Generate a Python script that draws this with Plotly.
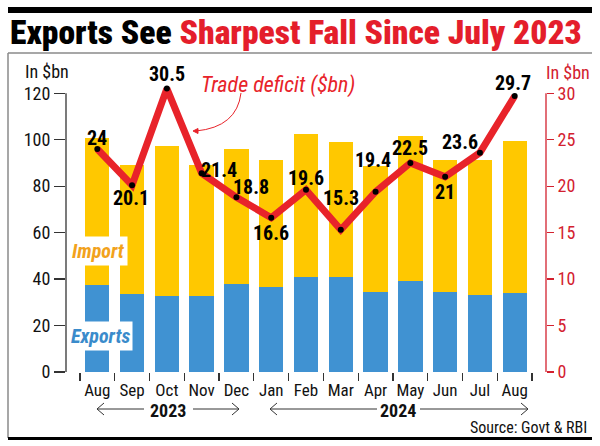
import plotly.graph_objects as go

# ---------------- data ----------------
months = ["Aug", "Sep", "Oct", "Nov", "Dec", "Jan", "Feb", "Mar", "Apr", "May", "Jun", "Jul", "Aug"]
exports = [37.4, 33.5, 32.7, 32.8, 37.7, 36.7, 40.7, 41.0, 34.5, 39.3, 34.5, 33.1, 33.8]
imports = [63.4, 55.5, 64.6, 56.2, 58.2, 54.5, 61.7, 57.8, 54.0, 62.2, 56.7, 58.1, 65.6]
deficit = [24, 20.1, 30.5, 21.4, 18.8, 16.6, 19.6, 15.3, 19.4, 22.5, 21, 23.6, 29.7]
deficit_text = ["24", "20.1", "30.5", "21.4", "18.8", "16.6", "19.6", "15.3", "19.4", "22.5", "21", "23.6", "29.7"]
left_ticks = [0, 20, 40, 60, 80, 100, 120]
right_ticks = [0, 5, 10, 15, 20, 25, 30]

# label offsets (style)
lab_dx = [0, -1, 0, 17, 15, 0, 0, 0, -3, 0, 0, -20, -2]
lab_dy = [11, -13, 15, 3, 10, -15, 12, 32, 32, 15, -15, 11, 13]

W, H = 600, 446
ML, MR, MT, MB = 66, 54, 70, 74
PW, PH = W - ML - MR, H - MT - MB


def px(x):
    return (x - ML) / PW


def py(y):
    return (H - MB - y) / PH


YEL = "#FFC800"
BLUE = "#4092D2"
RED = "#E8232A"
AXRED = "#D3212F"
COND = "Roboto Condensed, Open Sans Condensed, sans-serif"

xs = list(range(len(months)))

fig = go.Figure()
fig.add_trace(go.Bar(x=xs, y=exports, marker=dict(color=BLUE, line=dict(width=0)), width=0.7,
                     name="Exports", yaxis="y", xaxis="x", hoverinfo="skip"))
fig.add_trace(go.Bar(x=xs, y=imports, marker=dict(color=YEL, line=dict(width=0)), width=0.7,
                     name="Import", yaxis="y", xaxis="x", hoverinfo="skip"))
fig.add_trace(go.Scatter(x=xs, y=deficit, mode="lines+markers", yaxis="y2", xaxis="x",
                         line=dict(color=RED, width=7), marker=dict(color="black", size=6),
                         cliponaxis=False, name="Trade deficit", hoverinfo="skip"))
# invisible trace to activate the boundary-tick axis
fig.add_trace(go.Scatter(x=[0], y=[0], xaxis="x2", yaxis="y", mode="markers", marker=dict(opacity=0),
                         hoverinfo="skip", showlegend=False))

annotations = []
for i, v in enumerate(deficit):
    annotations.append(dict(x=xs[i], y=v, xref="x", yref="y2", text=deficit_text[i], showarrow=False,
                            xanchor="center", yanchor="middle", xshift=lab_dx[i], yshift=lab_dy[i],
                            font=dict(family=COND, size=20, color="black", weight="bold")))


def ptext(x, y, text, font, xanchor="center", **kw):
    annotations.append(dict(x=px(x), y=py(y), xref="paper", yref="paper", xanchor=xanchor,
                            yanchor="middle", showarrow=False, text=text, font=font, **kw))


# title
ptext(8, 32, "Exports See <span style='color:#E41E2B'>Sharpest Fall Since July 2023</span>",
      dict(family=COND, size=33.6, color="black", weight=900), xanchor="left")
# axis titles
ptext(47, 71, "In $bn", dict(family=COND, size=18, color="#111"))
ptext(568, 72, "In $bn", dict(family=COND, size=18, color=AXRED))
# series labels
ptext(98, 251, "<i>Import</i>", dict(family=COND, size=20, color="#F2A21C", weight="bold"),
      bgcolor="white", borderpad=2)
ptext(100, 336, "<i>Exports</i>", dict(family=COND, size=20, color="#3A8BCB", weight="bold"),
      bgcolor="white", borderpad=2)
ptext(278, 85, "<i>Trade deficit ($bn)</i>", dict(family=COND, size=22, color=RED))
# years
ptext(168, 410, "2023", dict(family=COND, size=18, color="#111", weight="bold"))
ptext(398, 410, "2024", dict(family=COND, size=18, color="#111", weight="bold"))
# source
ptext(589, 427, "Source: Govt &amp; RBI", dict(family=COND, size=16, color="#111"), xanchor="right")

shapes = []


def pline(x0, y0, x1, y1, color, width):
    shapes.append(dict(type="line", xref="paper", yref="paper", x0=px(x0), y0=py(y0), x1=px(x1), y1=py(y1),
                       line=dict(color=color, width=width), layer="above"))


def ppath(points, color, width, fill=None):
    d = "M " + " L ".join(f"{px(a):.5f},{py(b):.5f}" for a, b in points)
    if fill:
        d += " Z"
    shapes.append(dict(type="path", xref="paper", yref="paper", path=d,
                       line=dict(color=color, width=width), fillcolor=fill if fill else "rgba(0,0,0,0)",
                       layer="above"))


# frame
shapes.append(dict(type="rect", xref="paper", yref="paper", x0=px(8), x1=px(592), y0=py(7), y1=py(13),
                   fillcolor="black", line=dict(width=0)))
pline(8, 53, 592, 53, "#8a8a8a", 1.5)
pline(8, 53, 8, 438, "#8a8a8a", 1.5)
pline(8, 438.5, 592, 438.5, "black", 3)

# left & right axis lines
shapes.append(dict(type="line", xref="paper", yref="y", x0=0, x1=0, y0=0, y1=120,
                   line=dict(color="#333", width=1.3)))
shapes.append(dict(type="line", xref="paper", yref="y2", x0=1, x1=1, y0=0, y1=30,
                   line=dict(color=AXRED, width=1.3)))
# x axis line
shapes.append(dict(type="line", xref="x", yref="y", x0=-0.5, x1=len(months) - 0.5, ysizemode="pixel",
                   yanchor=0, y0=-3, y1=-3, line=dict(color="#333", width=1.3)))

# year arrows
for (a, b) in [(97, 144), (193, 239), (270, 377), (420, 528)]:
    pline(a, 409, b, 409, "#333", 1)
for tip, d in [(97, 1), (239, -1), (270, 1), (528, -1)]:
    ppath([(tip + 7 * d, 403), (tip, 409), (tip + 7 * d, 415)], "#333", 1)

# trade deficit pointer
shapes.append(dict(type="path", xref="paper", yref="paper",
                   path=f"M {px(241):.5f},{py(93):.5f} Q {px(237):.5f},{py(127):.5f} {px(196):.5f},{py(131):.5f}",
                   line=dict(color=RED, width=1), layer="above"))
ppath([(193, 131), (198, 128.5), (198, 133.5)], RED, 1, fill=RED)

fig.update_layout(
    width=W, height=H, margin=dict(l=ML, r=MR, t=MT, b=MB, autoexpand=False),
    paper_bgcolor="white", plot_bgcolor="white", showlegend=False, barmode="stack", bargap=0.3,
    hovermode=False,
    xaxis=dict(range=[-0.9, len(months) - 0.1], tickvals=xs, ticktext=months, ticks="outside",
               ticklen=3, tickcolor="rgba(0,0,0,0)", showgrid=False, zeroline=False, showline=False,
               automargin=False, tickfont=dict(family=COND, size=17, color="#111")),
    xaxis2=dict(range=[-0.9, len(months) - 0.1], overlaying="x", anchor="y", side="bottom",
                tickvals=[i - 0.5 for i in range(len(months) + 1)], ticks="outside", ticklen=8,
                tickcolor="#333", tickwidth=1.2, showticklabels=False, showgrid=False, zeroline=False,
                showline=False, automargin=False),
    yaxis=dict(range=[0, 130], tickvals=left_ticks, ticks="outside", ticklen=11, tickcolor="#333",
               tickwidth=1.3, showgrid=False, zeroline=False, showline=False, automargin=False,
               tickfont=dict(family=COND, size=18, color="#111")),
    yaxis2=dict(range=[0, 32.5], overlaying="y", side="right", tickvals=right_ticks, ticks="outside",
                ticklen=7, tickcolor=AXRED, tickwidth=1.3, showgrid=False, zeroline=False, showline=False,
                automargin=False, tickfont=dict(family=COND, size=18, color=AXRED)),
    annotations=annotations, shapes=shapes,
)

fig.write_html("out.html", config={"displayModeBar": False, "staticPlot": True},
               post_script="document.body.style.margin='0';document.body.style.overflow='hidden';")
